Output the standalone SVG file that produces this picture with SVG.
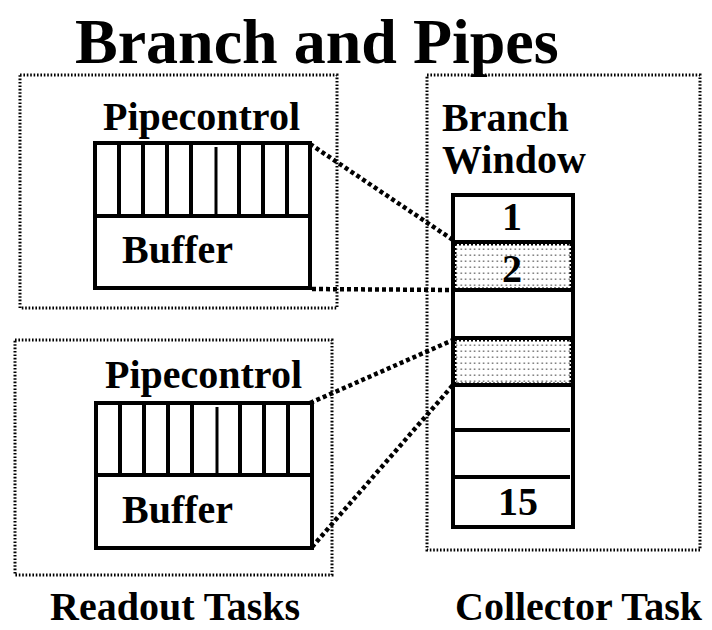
<svg xmlns="http://www.w3.org/2000/svg" width="712" height="630" viewBox="0 0 712 630">
<style>
  text { font-family: "Liberation Serif", "Times New Roman", serif; font-weight: bold; fill: #000; }
  .lbl { font-size: 40px; }
  .title { font-size: 64px; }
  .mid { text-anchor: middle; }
  .group { fill: none; stroke: #000; stroke-width: 3; stroke-dasharray: 1.6 1.8; }
  .box { fill: #fff; stroke: #000; stroke-width: 4; }
  .sep { stroke: #000; stroke-width: 4; fill: none; }
  .tick { stroke: #000; stroke-width: 4; }
  .conn { stroke: #000; stroke-width: 4.5; stroke-dasharray: 4 3; fill: none; }
  .shade { fill: url(#dots); stroke: #000; stroke-width: 3; stroke-dasharray: 2 2; }
</style>
<defs>
  <pattern id="dots" width="4.5" height="6" patternUnits="userSpaceOnUse">
    <rect width="4.5" height="6" fill="#fff"/>
    <rect x="1.5" y="2.5" width="1.4" height="1.4" fill="#555"/>
  </pattern>
</defs>
<rect width="712" height="630" fill="#fff"/>

<text class="title" x="75" y="63">Branch and Pipes</text>

<g id="readout1">
  <rect class="group" x="20" y="75" width="317" height="233"/>
  <text class="lbl" x="103" y="130">Pipecontrol</text>
  <rect class="box" x="95" y="143" width="215" height="145"/>
  <line class="sep" x1="95" y1="216" x2="310" y2="216"/>
  <g class="tick">
    <line x1="119" y1="143" x2="119" y2="216"/>
    <line x1="143" y1="143" x2="143" y2="216"/>
    <line x1="167" y1="143" x2="167" y2="216"/>
    <line x1="191" y1="143" x2="191" y2="216"/>
    <line x1="216" y1="147" x2="216" y2="216" stroke-width="3"/>
    <line x1="239" y1="143" x2="239" y2="216"/>
    <line x1="263" y1="143" x2="263" y2="216"/>
    <line x1="287" y1="143" x2="287" y2="216"/>
  </g>
  <text class="lbl" x="122" y="263">Buffer</text>
</g>

<g id="readout2">
  <rect class="group" x="15" y="340" width="317" height="235"/>
  <text class="lbl" x="105" y="388">Pipecontrol</text>
  <rect class="box" x="96" y="403" width="216" height="145"/>
  <line class="sep" x1="96" y1="475" x2="312" y2="475"/>
  <g class="tick">
    <line x1="120" y1="403" x2="120" y2="475"/>
    <line x1="144" y1="403" x2="144" y2="475"/>
    <line x1="168" y1="403" x2="168" y2="475"/>
    <line x1="192" y1="403" x2="192" y2="475"/>
    <line x1="217" y1="407" x2="217" y2="475" stroke-width="3"/>
    <line x1="240" y1="403" x2="240" y2="475"/>
    <line x1="264" y1="403" x2="264" y2="475"/>
    <line x1="288" y1="403" x2="288" y2="475"/>
  </g>
  <text class="lbl" x="122" y="523">Buffer</text>
</g>

<g id="collector">
  <rect class="group" x="427" y="75" width="273" height="475"/>
  <text class="lbl" x="442" y="131">Branch</text>
  <text class="lbl" x="442" y="173">Window</text>
  <rect class="box" x="453" y="195" width="120" height="332"/>
  <rect class="shade" x="455" y="244" width="116" height="45"/>
  <rect class="shade" x="455" y="340" width="116" height="44"/>
  <line class="sep" x1="453" y1="242" x2="573" y2="242"/>
  <line class="sep" x1="453" y1="290" x2="573" y2="290"/>
  <line class="sep" x1="453" y1="338" x2="573" y2="338"/>
  <line class="sep" x1="453" y1="385" x2="573" y2="385"/>
  <line class="sep" x1="453" y1="430" x2="570" y2="430"/>
  <line class="sep" x1="453" y1="477" x2="570" y2="477"/>
  <text class="lbl mid" x="512" y="230">1</text>
  <text class="lbl mid" x="512" y="282">2</text>
  <text class="lbl mid" x="518" y="515">15</text>
</g>

<g id="connectors">
  <line class="conn" x1="310" y1="144" x2="453" y2="240"/>
  <line class="conn" x1="312" y1="289" x2="453" y2="290"/>
  <line class="conn" x1="310" y1="403" x2="453" y2="340"/>
  <line class="conn" x1="312" y1="547" x2="453" y2="385"/>
</g>

<text class="lbl" x="50" y="620">Readout Tasks</text>
<text class="lbl" x="455" y="620">Collector Task</text>
</svg>
